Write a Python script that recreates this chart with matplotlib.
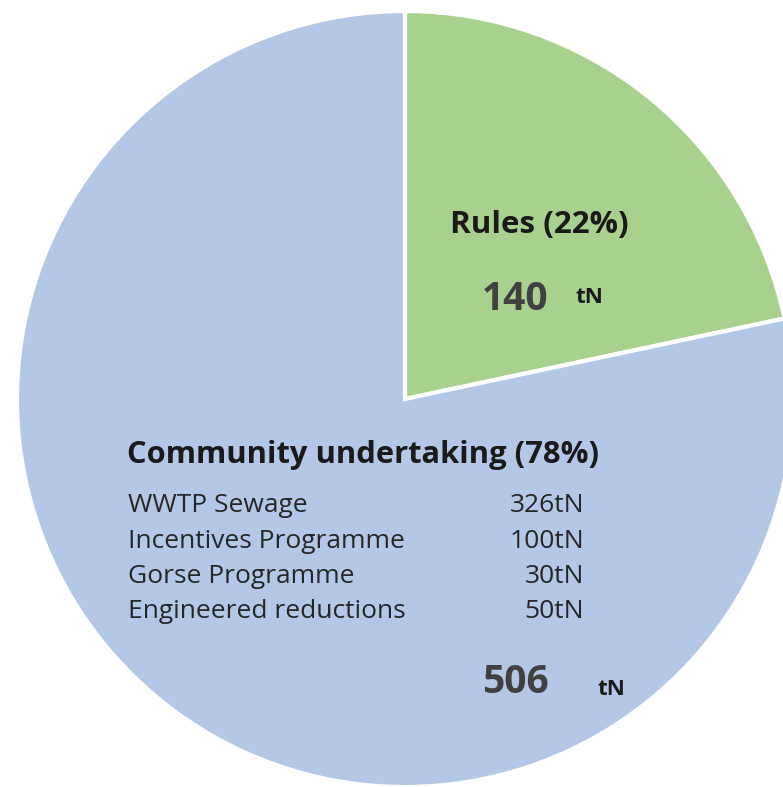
import matplotlib
matplotlib.use("Agg")
import matplotlib.pyplot as plt

plt.rcParams['font.family'] = ['Open Sans', 'DejaVu Sans']

# data
labels = ["Rules", "Community undertaking"]
totals = [140, 506]
colors = ["#a9d18e", "#b4c7e7"]
parts = ["WWTP Sewage", "Incentives Programme", "Gorse Programme", "Engineered reductions"]
part_values = [326, 100, 30, 50]

W, H = 783, 787
fig = plt.figure(figsize=(W / 100, H / 100), dpi=100)
ax = fig.add_axes([0, 0, 1, 1])

# pie in pixel coordinates (y measured from bottom)
cx, cy, r = 405, H - 399, 388
ax.pie(totals, colors=colors, startangle=90, counterclock=False,
       center=(cx, cy), radius=r,
       wedgeprops=dict(edgecolor="white", linewidth=3))
ax.set_xlim(0, W)
ax.set_ylim(0, H)
ax.set_aspect("equal")
ax.axis("off")

renderer = fig.canvas.get_renderer()


def size_for(s, width, weight="normal"):
    # font size giving a text of the wanted pixel width
    t = ax.text(0, 0, s, fontsize=10, fontweight=weight)
    w = t.get_window_extent(renderer).width
    t.remove()
    return 10 * width / w


def put(x, y, s, size, weight="normal", color="#1a1a1a", ha="left"):
    ax.text(x, H - y, s, fontsize=size, fontweight=weight, color=color,
            ha=ha, va="baseline")


pct = [round(100 * v / sum(totals)) for v in totals]
big = size_for(str(totals[0]), 67, "bold")
unit = size_for("tN", 28, "bold")
rows = size_for(parts[0], 179)

# Rules label
put(450, 233, f"{labels[0]} ({pct[0]}%)", size_for(f"{labels[0]} ({pct[0]}%)", 178, "bold"), "bold")
put(482, 310, str(totals[0]), big, "bold", "#404040")
put(575, 303, "tN", unit, "bold")

# Community label
title = f"{labels[1]} ({pct[1]}%)"
put(127, 463, title, size_for(title, 471, "bold"), "bold")
row_y = [512, 548, 583, 618]
for name, val, y in zip(parts, part_values, row_y):
    put(128, y, name, rows, color="#262626")
    put(584, y, f"{val}tN", rows, color="#262626", ha="right")

put(482, 693, str(totals[1]), big, "bold", "#404040")
put(597, 695, "tN", unit, "bold")

fig.savefig("out.png", dpi=100, facecolor="white")
